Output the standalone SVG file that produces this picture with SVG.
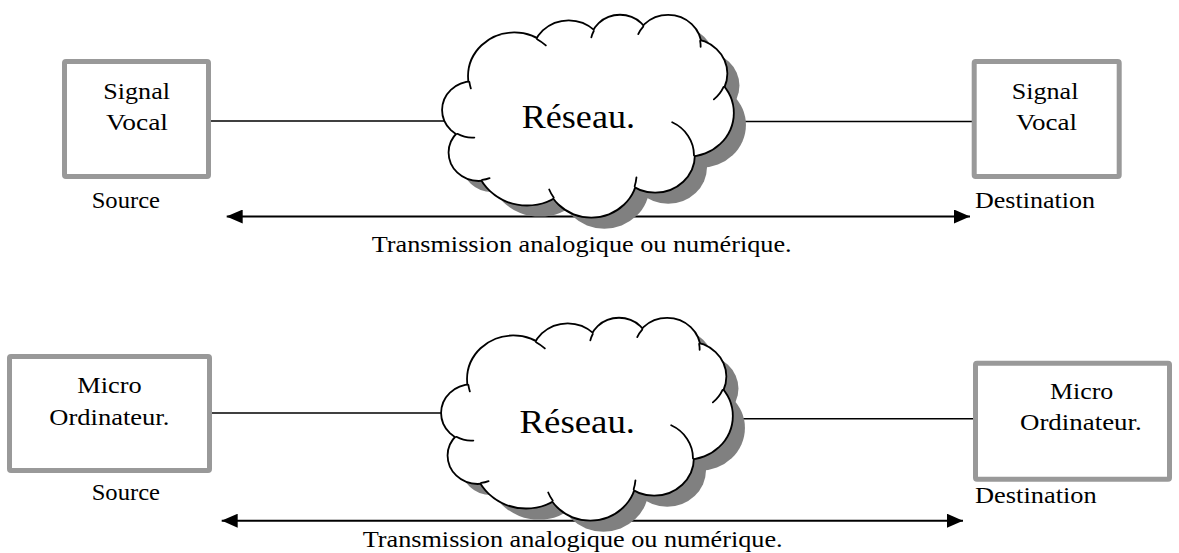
<svg xmlns="http://www.w3.org/2000/svg" xmlns:xlink="http://www.w3.org/1999/xlink" width="1179" height="553" viewBox="0 0 1179 553">
  <style>
    .box { fill: #ffffff; stroke: #999999; stroke-width: 5; stroke-linejoin: round; }
    .lbl { font-family: "Liberation Serif", "Times New Roman", serif; font-size: 24px; fill: #000000; }
    .net { font-family: "Liberation Serif", "Times New Roman", serif; font-size: 33px; fill: #000000; }
    .wire { stroke: #000000; stroke-width: 1.6; fill: none; }
    .span { stroke: #000000; stroke-width: 2; fill: none; marker-start: url(#arrowHead); marker-end: url(#arrowHead); }
    .cloud-edge { fill: none; stroke: #000000; stroke-width: 3.6; }
    .cloud-body { fill: #ffffff; stroke: none; }
    .cloud-shadow { fill: #808080; stroke: none; }
    .cloud-fold { fill: none; stroke: #000000; stroke-width: 1.8; stroke-linecap: round; }
  </style>
  <defs>
    <marker id="arrowHead" viewBox="0 0 16 14" refX="16" refY="7" markerWidth="16" markerHeight="14" markerUnits="userSpaceOnUse" orient="auto-start-reverse">
      <path d="M0,0 L16,7 L0,14 Z" fill="#000000"/>
    </marker>
    <!-- lobes of the cloud -->
    <g id="cloudLobes">
      <ellipse cx="514.2" cy="76.1" rx="45.28" ry="42.73"/>
      <ellipse cx="568.7" cy="55.0" rx="35.76" ry="33.79"/>
      <ellipse cx="620.0" cy="43.3" rx="29.27" ry="27.64"/>
      <ellipse cx="668.1" cy="46.4" rx="32.57" ry="30.67"/>
      <ellipse cx="690.7" cy="73.6" rx="35.76" ry="33.82"/>
      <ellipse cx="687.5" cy="113.0" rx="45.43" ry="42.87"/>
      <ellipse cx="655.2" cy="155.2" rx="38.79" ry="36.58"/>
      <ellipse cx="591.3" cy="173.8" rx="45.27" ry="42.85"/>
      <ellipse cx="527.0" cy="155.6" rx="51.76" ry="49.02"/>
      <ellipse cx="478.7" cy="152.6" rx="29.23" ry="27.52"/>
      <ellipse cx="472.1" cy="110.0" rx="29.13" ry="27.64"/>
    </g>
    <!-- lobes plus the core between them -->
    <g id="cloudSolid">
      <use xlink:href="#cloudLobes"/>
      <polygon points="514.2,76.1 568.7,55 620,43.3 668.1,46.4 690.7,73.6 687.5,113 655.2,155.2 591.3,173.8 527,155.6 478.7,152.6 472.1,110"/>
    </g>
    <!-- inner fold lines of the cloud -->
    <path id="cloudFolds" d="M474.36,137.53 A29.13,27.64 0 0 1 457.38,133.82
      M489.55,178.19 A29.23,27.52 0 0 1 482.12,179.96
      M553.69,197.59 A45.27,42.85 0 0 1 549.21,189.50
      M636.44,177.31 A45.27,42.85 0 0 1 634.65,186.19
      M672.18,122.27 A38.79,36.58 0 0 1 693.98,155.44
      M723.58,86.89 A35.76,33.82 0 0 1 713.87,99.34
      M700.12,40.93 A32.57,30.67 0 0 1 700.63,46.81
      M638.25,34.04 A32.57,30.67 0 0 1 643.22,26.54
      M591.35,37.42 A29.27,27.64 0 0 1 593.76,30.96
      M537.10,39.19 A45.28,42.73 0 0 1 545.82,45.46
      M470.86,88.41 A45.28,42.73 0 0 1 469.35,81.82"/>
    <g id="cloud">
      <use xlink:href="#cloudSolid" class="cloud-shadow" transform="translate(13,12)"/>
      <use xlink:href="#cloudLobes" class="cloud-edge"/>
      <use xlink:href="#cloudSolid" class="cloud-body"/>
      <use xlink:href="#cloudFolds" class="cloud-fold"/>
    </g>
  </defs>

  <!-- connectors -->
  <g id="connectors">
    <line class="wire" x1="211" y1="121" x2="500" y2="121"/>
    <line class="wire" x1="680" y1="121.5" x2="972" y2="121.5"/>
    <line class="span" x1="226.7" y1="216.5" x2="970" y2="216.5"/>
    <line class="wire" x1="212" y1="413" x2="500" y2="413"/>
    <line class="wire" x1="680" y1="418.7" x2="973" y2="418.7"/>
    <line class="span" x1="221.7" y1="520.7" x2="963" y2="520.7"/>
  </g>

  <!-- upper chain -->
  <g id="source-voice">
    <rect class="box" x="64.5" y="61.5" width="144" height="115" rx="1.5"/>
    <text class="lbl" x="103.3" y="99" textLength="66.7" lengthAdjust="spacingAndGlyphs">Signal</text>
    <text class="lbl" x="106" y="130" textLength="62" lengthAdjust="spacingAndGlyphs">Vocal</text>
    <text class="lbl" x="91.7" y="208.3" textLength="68.3" lengthAdjust="spacingAndGlyphs">Source</text>
  </g>
  <g id="network-voice">
    <use xlink:href="#cloud"/>
    <text class="net" x="521.7" y="127.5" textLength="113.3" lengthAdjust="spacingAndGlyphs">Réseau.</text>
  </g>
  <g id="destination-voice">
    <rect class="box" x="974.2" y="61.5" width="145" height="115" rx="1.5"/>
    <text class="lbl" x="1011.7" y="99" textLength="66.7" lengthAdjust="spacingAndGlyphs">Signal</text>
    <text class="lbl" x="1016" y="130" textLength="61" lengthAdjust="spacingAndGlyphs">Vocal</text>
    <text class="lbl" x="975" y="208" textLength="120" lengthAdjust="spacingAndGlyphs">Destination</text>
  </g>
  <g id="span-voice">
    <text class="lbl" x="371.7" y="251.7" textLength="420" lengthAdjust="spacingAndGlyphs">Transmission analogique ou numérique.</text>
  </g>

  <!-- lower chain -->
  <g id="source-computer">
    <rect class="box" x="9.5" y="356.5" width="200" height="114" rx="1.5"/>
    <text class="lbl" x="77.3" y="393" textLength="64.4" lengthAdjust="spacingAndGlyphs">Micro</text>
    <text class="lbl" x="49.3" y="425" textLength="120" lengthAdjust="spacingAndGlyphs">Ordinateur.</text>
    <text class="lbl" x="91.7" y="500" textLength="68.3" lengthAdjust="spacingAndGlyphs">Source</text>
  </g>
  <g id="network-computer">
    <use xlink:href="#cloud" transform="translate(-1,303)"/>
    <text class="net" x="519.5" y="432.5" textLength="115.5" lengthAdjust="spacingAndGlyphs">Réseau.</text>
  </g>
  <g id="destination-computer">
    <rect class="box" x="975.5" y="363.2" width="194" height="116" rx="1.5"/>
    <text class="lbl" x="1050" y="399" textLength="63.3" lengthAdjust="spacingAndGlyphs">Micro</text>
    <text class="lbl" x="1020" y="430" textLength="121.7" lengthAdjust="spacingAndGlyphs">Ordinateur.</text>
    <text class="lbl" x="975" y="503" textLength="121.7" lengthAdjust="spacingAndGlyphs">Destination</text>
  </g>
  <g id="span-computer">
    <text class="lbl" x="362.7" y="546.7" textLength="420" lengthAdjust="spacingAndGlyphs">Transmission analogique ou numérique.</text>
  </g>
</svg>
